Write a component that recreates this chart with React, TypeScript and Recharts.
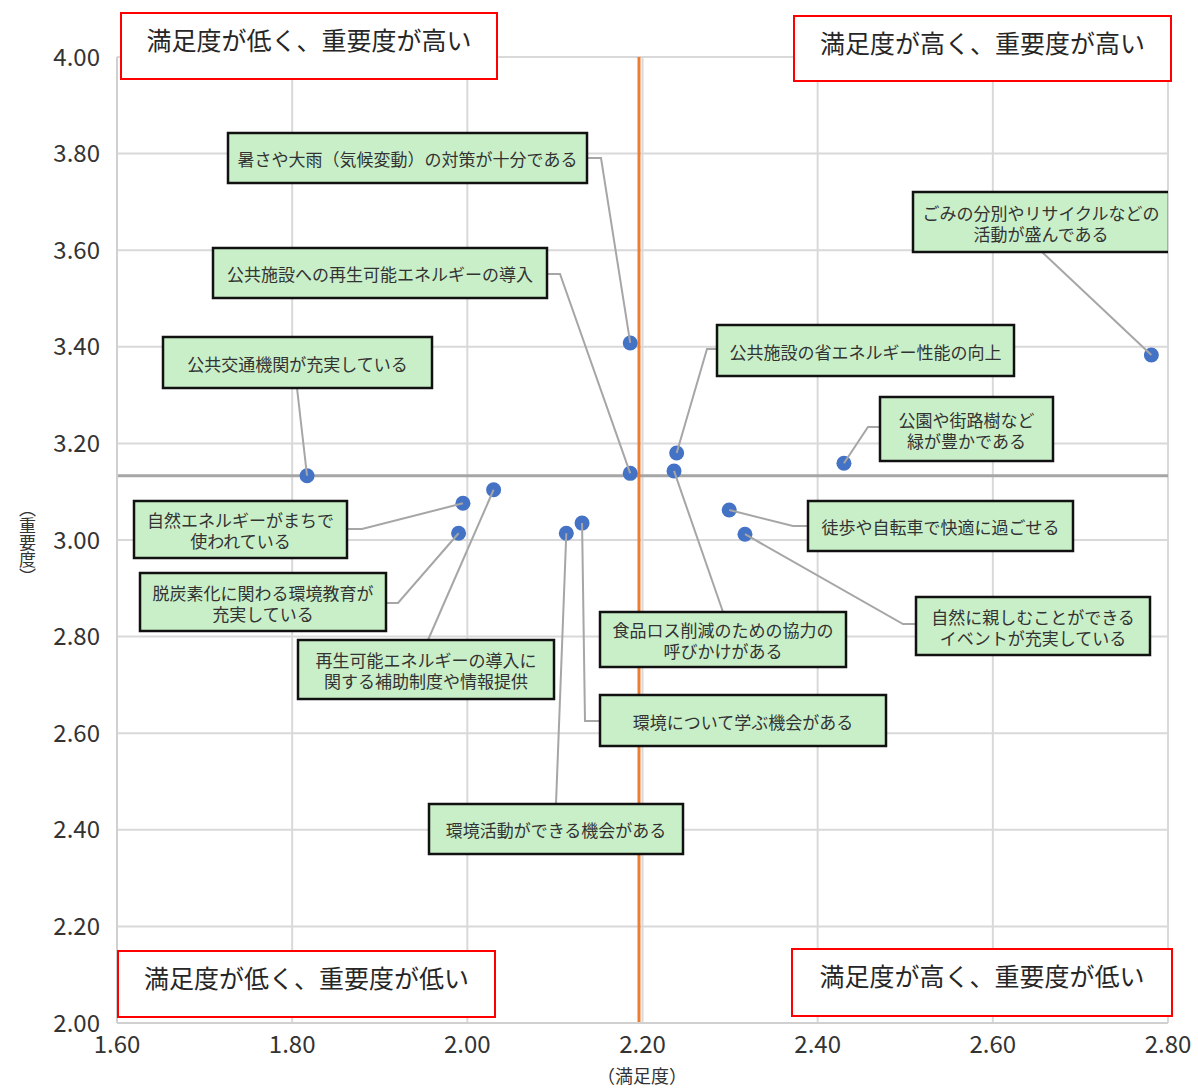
import { ScatterChart, Scatter, XAxis, YAxis, CartesianGrid, ReferenceLine } from 'recharts'

const FONT = "'Noto Sans CJK JP', 'Noto Sans', sans-serif"

// 項目（\n は表示上の改行）
const items = [
  '暑さや大雨（気候変動）の対策が十分である',
  '公共施設への再生可能エネルギーの導入',
  '公共交通機関が充実している',
  'ごみの分別やリサイクルなどの\n活動が盛んである',
  '公共施設の省エネルギー性能の向上',
  '食品ロス削減のための協力の\n呼びかけがある',
  '公園や街路樹など\n緑が豊かである',
  '徒歩や自転車で快適に過ごせる',
  '自然に親しむことができる\nイベントが充実している',
  '自然エネルギーがまちで\n使われている',
  '再生可能エネルギーの導入に\n関する補助制度や情報提供',
  '脱炭素化に関わる環境教育が\n充実している',
  '環境活動ができる機会がある',
  '環境について学ぶ機会がある',
]
const satisfaction = [2.186, 2.186, 1.817, 2.781, 2.239, 2.236, 2.430, 2.299, 2.317, 1.995, 2.030, 1.990, 2.113, 2.131]
const importance = [3.408, 3.138, 3.133, 3.383, 3.180, 3.143, 3.159, 3.062, 3.012, 3.076, 3.104, 3.014, 3.014, 3.035]

const avgSatisfaction = 2.196
const avgImportance = 3.133

const xTicks = [1.6, 1.8, 2.0, 2.2, 2.4, 2.6, 2.8]
const yTicks = [2.0, 2.2, 2.4, 2.6, 2.8, 3.0, 3.2, 3.4, 3.6, 3.8, 4.0]

const quadrants = ['満足度が低く、重要度が高い', '満足度が高く、重要度が高い', '満足度が低く、重要度が低い', '満足度が高く、重要度が低い']
const yTitle = '（重要度）'
const xTitle = '（満足度）'

// ラベル配置 (px): box [x, y, w, h], anchor = 引き出し線の始点, elbow = 折れ点
const labelBoxes = [
  { box: [228, 133, 359, 50], anchor: [587, 158], elbow: [601, 158] },
  { box: [213, 248, 334, 50], anchor: [547, 274], elbow: [560, 274] },
  { box: [163, 337, 269, 51], anchor: [297, 388] },
  { box: [913, 192, 256, 60], anchor: [1042, 252] },
  { box: [717, 325, 297, 51], anchor: [717, 349], elbow: [707, 349] },
  { box: [600, 612, 246, 55], anchor: [723, 612] },
  { box: [880, 397, 173, 64], anchor: [880, 427], elbow: [868, 427] },
  { box: [808, 501, 265, 50], anchor: [808, 526], elbow: [793, 526] },
  { box: [916, 597, 234, 58], anchor: [916, 624], elbow: [903, 624] },
  { box: [134, 501, 213, 57], anchor: [347, 529], elbow: [362, 529] },
  { box: [298, 640, 256, 59], anchor: [428, 640] },
  { box: [140, 573, 246, 58], anchor: [386, 603], elbow: [398, 603] },
  { box: [429, 804, 254, 50], anchor: [556, 804] },
  { box: [600, 695, 286, 51], anchor: [600, 721], elbow: [585, 721] },
]
const quadrantBoxes = [
  [120, 12, 378, 68],
  [793, 15, 379, 67],
  [117, 950, 379, 68],
  [791, 948, 382, 69],
]

const rows = items.map((name, i) => ({ x: satisfaction[i], y: importance[i], name, i }))

const LabelShape = (props: any) => {
  const { cx, cy, payload } = props
  const L = labelBoxes[payload.i]
  const [bx, by, bw, bh] = L.box
  const lines = payload.name.split('\n')
  const pts = [L.anchor, ...(L.elbow ? [L.elbow] : []), [cx, cy]]
  const lh = 21
  const top = by + bh / 2 - ((lines.length - 1) * lh) / 2
  return (
    <g>
      <polyline points={pts.map(p => p.join(',')).join(' ')} fill="none" stroke="#a6a6a6" strokeWidth={2} />
      <rect x={bx} y={by} width={bw} height={bh} fill="#c9efc9" stroke="#111" strokeWidth={2.5} />
      <text textAnchor="middle" dominantBaseline="central" fontSize={17} fill="#333" fontFamily={FONT}>
        {lines.map((t: string, k: number) => (
          <tspan key={k} x={bx + bw / 2} y={top + k * lh}>{t}</tspan>
        ))}
      </text>
    </g>
  )
}

const Dot = (props: any) => <circle cx={props.cx} cy={props.cy} r={7.5} fill="#4472c4" />

export default function App() {
  return (
    <div style={{ position: 'absolute', left: 0, top: 0, width: 1198, height: 1089, background: '#fff', fontFamily: FONT, overflow: 'hidden' }}>
      <ScatterChart width={1198} height={1089} margin={{ top: 57, right: 30, bottom: 26, left: 37 }}>
        <CartesianGrid stroke="#d9d9d9" strokeWidth={2} />
        <XAxis type="number" dataKey="x" domain={[1.6, 2.8]} ticks={xTicks} allowDataOverflow
          tickFormatter={(v: number) => v.toFixed(2)} height={40} tickLine={false} tickSize={6} tickMargin={7}
          axisLine={{ stroke: '#d0d0d0', strokeWidth: 2 }} tick={{ fontSize: 24, fill: '#333', fontFamily: FONT }} />
        <YAxis type="number" dataKey="y" domain={[2, 4]} ticks={yTicks} allowDataOverflow
          tickFormatter={(v: number) => v.toFixed(2)} width={80} tickLine={false} tickSize={6} tickMargin={11}
          axisLine={{ stroke: '#d0d0d0', strokeWidth: 2 }} tick={{ fontSize: 24, fill: '#333', fontFamily: FONT }} />
        <Scatter data={rows} shape={Dot} isAnimationActive={false} />
        <ReferenceLine y={avgImportance} stroke="#a6a6a6" strokeWidth={3} />
        <ReferenceLine x={avgSatisfaction} stroke="#ed7d31" strokeWidth={3} />
        <Scatter data={rows} shape={LabelShape} isAnimationActive={false} />
      </ScatterChart>
      {quadrantBoxes.map(([x, y, w, h], i) => (
        <div key={i} style={{ position: 'absolute', left: x, top: y, width: w, height: h, boxSizing: 'border-box',
          border: '2px solid #ff0000', background: '#fff', textAlign: 'center', fontSize: 25, lineHeight: '30px',
          paddingTop: 10, color: '#262626' }}>{quadrants[i]}</div>
      ))}
      <div style={{ position: 'absolute', left: 15, top: 500, writingMode: 'vertical-rl', fontSize: 17, lineHeight: '24px', color: '#333' }}>{yTitle}</div>
      <div style={{ position: 'absolute', left: 542, width: 200, top: 1063, textAlign: 'center', fontSize: 18, lineHeight: '24px', color: '#333' }}>{xTitle}</div>
    </div>
  )
}
